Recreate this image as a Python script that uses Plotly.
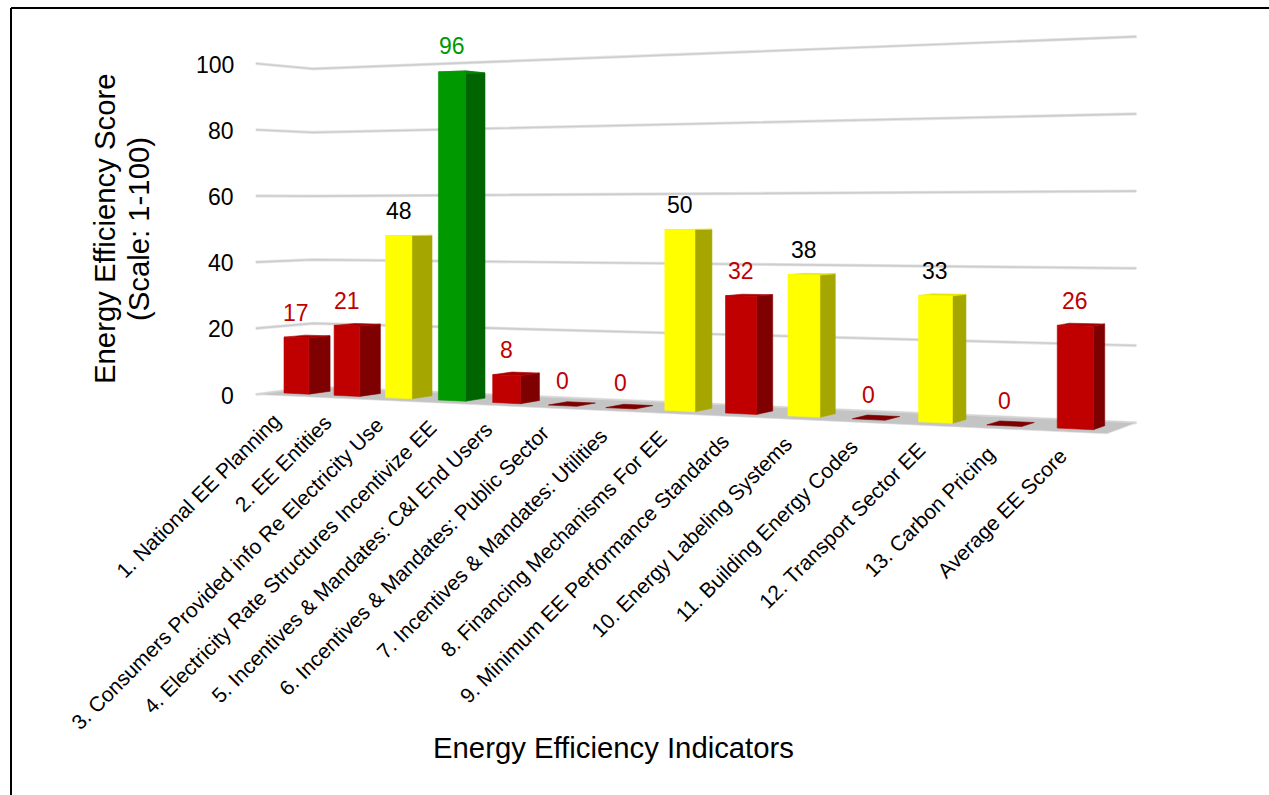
import plotly.graph_objects as go

# Indicator names and scores, in chart order
categories = [
    "1. National EE Planning",
    "2. EE Entities",
    "3. Consumers Provided info Re Electricity Use",
    "4. Electricity Rate Structures Incentivize EE",
    "5. Incentives & Mandates: C&I End Users",
    "6. Incentives & Mandates: Public Sector",
    "7. Incentives & Mandates: Utilities",
    "8. Financing Mechanisms For EE",
    "9. Minimum EE Performance Standards",
    "10. Energy Labeling Systems",
    "11. Building Energy Codes",
    "12. Transport Sector EE",
    "13. Carbon Pricing",
    "Average EE Score",
]
scores = [17, 21, 48, 96, 8, 0, 0, 50, 32, 38, 0, 33, 0, 26]
y_ticks = [0, 20, 40, 60, 80, 100]
y_title_lines = ["Energy Efficiency Score", "(Scale: 1-100)"]
x_title = "Energy Efficiency Indicators"

FONT = "Liberation Sans, Arial, sans-serif"
RED = ("#C00000", "#7F0000", "#A80000")
YELLOW = ("#FFFF00", "#A6A600", "#E6E600")
GREEN = ("#009900", "#006400", "#008800")
LABEL_COLOURS = {RED: "#C00000", YELLOW: "#000000", GREEN: "#009900"}


def band(score):
    """Scores split into poor, middling and good colour bands."""
    if score < 33:
        return RED
    return YELLOW if score < 67 else GREEN


# Perspective projection of (category position, depth, value) on to the page
def project(c, d, v):
    w = 1 - 0.01294 * c + 0.015 * d
    return (284 + 45.8 * c + 26 * d) / w, (393 - 2.84 * c + 3 * d - 3.285 * v) / w


BAR_WIDTH = 0.5
C_LEFT, C_RIGHT = -0.25, 13.8
D_FRONT, D_BACK = -0.72, 1.95


def polygon(corners, colour, line=None):
    pts = [project(*p) for p in corners]
    pts.append(pts[0])
    return go.Scatter(
        x=[p[0] for p in pts],
        y=[p[1] for p in pts],
        mode="lines",
        fill="toself",
        fillcolor=colour,
        line=dict(color=line or colour, width=0.6),
        hoverinfo="skip",
        showlegend=False,
    )


fig = go.Figure()

# Gridlines run along the left wall and then the back wall, with a soft edge underneath
for tick in y_ticks:
    pts = [project(C_LEFT, D_FRONT, tick), project(C_LEFT, D_BACK, tick), project(C_RIGHT, D_BACK, tick)]
    for colour, width in (("#E6E6E6", 3.2), ("#CDCDCD", 1.6)):
        fig.add_trace(go.Scatter(
            x=[p[0] for p in pts], y=[p[1] for p in pts], mode="lines",
            line=dict(color=colour, width=width), hoverinfo="skip", showlegend=False,
        ))

# Chart floor
fig.add_trace(polygon(
    [(C_LEFT, D_FRONT, 0), (C_RIGHT, D_FRONT, 0), (C_RIGHT, D_BACK, 0), (C_LEFT, D_BACK, 0)],
    "#C4C4C4", "#DEDEDE",
))

# Bars: side, top and front faces
annotations = []
for i, score in enumerate(scores):
    front, side, top = band(score)
    c0, c1 = i, i + BAR_WIDTH
    if score > 0:
        fig.add_trace(polygon([(c1, 0, 0), (c1, 1, 0), (c1, 1, score), (c1, 0, score)], side))
    fig.add_trace(polygon(
        [(c0, 0, score), (c1, 0, score), (c1, 1, score), (c0, 1, score)],
        top if score > 0 else side,
    ))
    if score > 0:
        fig.add_trace(polygon([(c0, 0, 0), (c1, 0, 0), (c1, 0, score), (c0, 0, score)], front))

    # Score above the bar
    lx, ly = project(i + BAR_WIDTH / 2, 0, score)
    annotations.append(dict(
        x=lx, y=ly, yshift=25, text=str(score), showarrow=False,
        font=dict(family=FONT, size=23, color=LABEL_COLOURS[band(score)]),
        xanchor="center", yanchor="middle",
    ))

    # Slanted category name ending under the bar
    ex, ey = project(i + BAR_WIDTH / 2, D_FRONT, 0)
    annotations.append(dict(
        x=ex + 7, y=ey + 10, text=categories[i].replace("&", "&amp;"), showarrow=False, textangle=-45,
        font=dict(family=FONT, size=21, color="#000000"),
        xanchor="right", yanchor="top",
    ))

# Value axis labels
for tick in y_ticks:
    _, ty = project(C_LEFT, D_FRONT, tick)
    annotations.append(dict(
        x=236, y=ty + 1, text=str(tick), showarrow=False,
        font=dict(family=FONT, size=23, color="#000000"),
        xanchor="right", yanchor="middle",
    ))

# Axis titles
for x_pos, line in zip((104, 138), y_title_lines):
    annotations.append(dict(
        x=x_pos, y=229, text=line, showarrow=False, textangle=-90,
        font=dict(family=FONT, size=29.3, color="#000000"), xanchor="center", yanchor="middle",
    ))
annotations.append(dict(
    x=613, y=747, text=x_title, showarrow=False,
    font=dict(family=FONT, size=29.3, color="#000000"), xanchor="center", yanchor="middle",
))

fig.update_layout(
    width=1269,
    height=795,
    autosize=False,
    margin=dict(l=0, r=0, t=0, b=0),
    paper_bgcolor="#FFFFFF",
    plot_bgcolor="#FFFFFF",
    showlegend=False,
    xaxis=dict(range=[0, 1269], visible=False, fixedrange=True),
    yaxis=dict(range=[795, 0], visible=False, fixedrange=True),
    annotations=annotations,
    shapes=[
        dict(type="line", xref="paper", yref="paper", x0=11 / 1269, x1=1, y0=1 - 8 / 795, y1=1 - 8 / 795,
             line=dict(color="#000000", width=2)),
        dict(type="line", xref="paper", yref="paper", x0=11 / 1269, x1=11 / 1269, y0=0, y1=1 - 8 / 795,
             line=dict(color="#000000", width=2)),
    ],
)

fig.write_html("out.html", config={"displayModeBar": False})
